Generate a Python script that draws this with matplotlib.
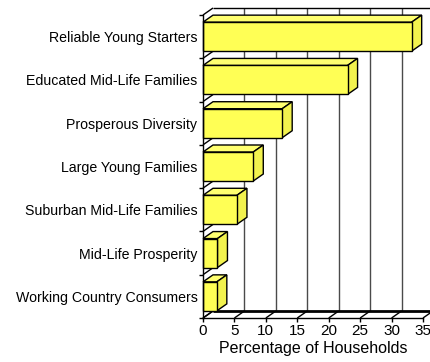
import matplotlib
matplotlib.use("Agg")
import matplotlib.pyplot as plt
import numpy as np
from matplotlib.patches import Polygon, Rectangle

plt.rcParams['font.family'] = ['Liberation Sans', 'DejaVu Sans']

segments = ['Reliable Young Starters', 'Educated Mid-Life Families', 'Prosperous Diversity',
            'Large Young Families', 'Suburban Mid-Life Families', 'Mid-Life Prosperity',
            'Working Country Consumers']
share = [33.2, 23.0, 12.6, 8.0, 5.4, 2.3, 2.2]
xticks = [0, 5, 10, 15, 20, 25, 30, 35]

front_col = '#ffff55'
top_col = '#ffff70'
side_col = '#f2f24e'
bar_h = 0.67

fig = plt.figure(figsize=(4.3, 3.62), dpi=100)
ax = fig.add_axes([203 / 430, 44 / 362, 220 / 430, 303 / 362])
n = len(segments)
ax.set_xlim(0, 35)
ax.set_ylim(-0.5, n - 0.5)
ylow, yhigh = -0.5, n - 0.5

# depth of the 3-D box in data units (10 px right, 7 px up)
inv = ax.transData.inverted()
ox, oy = ax.transData.transform((0, 0))
ddx, ddy = inv.transform((ox + 10, oy + 7)) - inv.transform((ox, oy))

kw = dict(clip_on=False, solid_capstyle='butt')

# back wall gridlines
for t in xticks[1:]:
    ax.plot([t + ddx, t + ddx], [ylow + ddy, yhigh + ddy], color='#4a4a4a', lw=1, zorder=1, **kw)
# back wall top edge and floor back edge
ax.plot([ddx, 35 + ddx], [yhigh + ddy, yhigh + ddy], color='black', lw=1, zorder=1, **kw)
ax.plot([ddx, 35 + ddx], [ylow + ddy, ylow + ddy], color='black', lw=2, zorder=1, **kw)
# floor slashes at x ticks
for t in xticks:
    ax.plot([t, t + ddx], [ylow, ylow + ddy], color='black', lw=1, zorder=1, **kw)
# side wall slashes at category boundaries
for b in np.arange(n + 1) - 0.5:
    ax.plot([0, ddx], [b, b + ddy], color='black', lw=1, zorder=1, **kw)

# 3-D bars
ypos = np.arange(n)[::-1]
for y, v in zip(ypos, share):
    y0, y1 = y - bar_h / 2, y + bar_h / 2
    ax.add_patch(Polygon([(0, y1), (v, y1), (v + ddx, y1 + ddy), (ddx, y1 + ddy)],
                         closed=True, facecolor=top_col, edgecolor='black', lw=1,
                         zorder=3, clip_on=False))
    ax.add_patch(Polygon([(v, y0), (v + ddx, y0 + ddy), (v + ddx, y1 + ddy), (v, y1)],
                         closed=True, facecolor=side_col, edgecolor='black', lw=1,
                         zorder=3, clip_on=False))
    ax.add_patch(Rectangle((0, y0), v, bar_h, facecolor=front_col, edgecolor='black',
                           lw=1, zorder=4, clip_on=False))

for s in ['top', 'right']:
    ax.spines[s].set_visible(False)
for s in ['left', 'bottom']:
    ax.spines[s].set_color('black')
    ax.spines[s].set_linewidth(1)
    ax.spines[s].set_zorder(5)

ax.set_xticks(xticks)
ax.set_xticklabels([str(t) for t in xticks], fontsize=11)
ax.tick_params(axis='x', length=3, width=1, pad=1.5, colors='black')
ax.set_yticks(ypos)
ax.set_yticklabels(segments, fontsize=10.2)
ax.tick_params(axis='y', which='major', length=0, pad=4)
ax.set_yticks(np.arange(n + 1) - 0.5, minor=True)
ax.tick_params(axis='y', which='minor', length=3, width=1)
ax.set_xlabel('Percentage of Households', fontsize=11.5, labelpad=2)
ax.patch.set_alpha(0)

fig.savefig('out.png', dpi=100)
